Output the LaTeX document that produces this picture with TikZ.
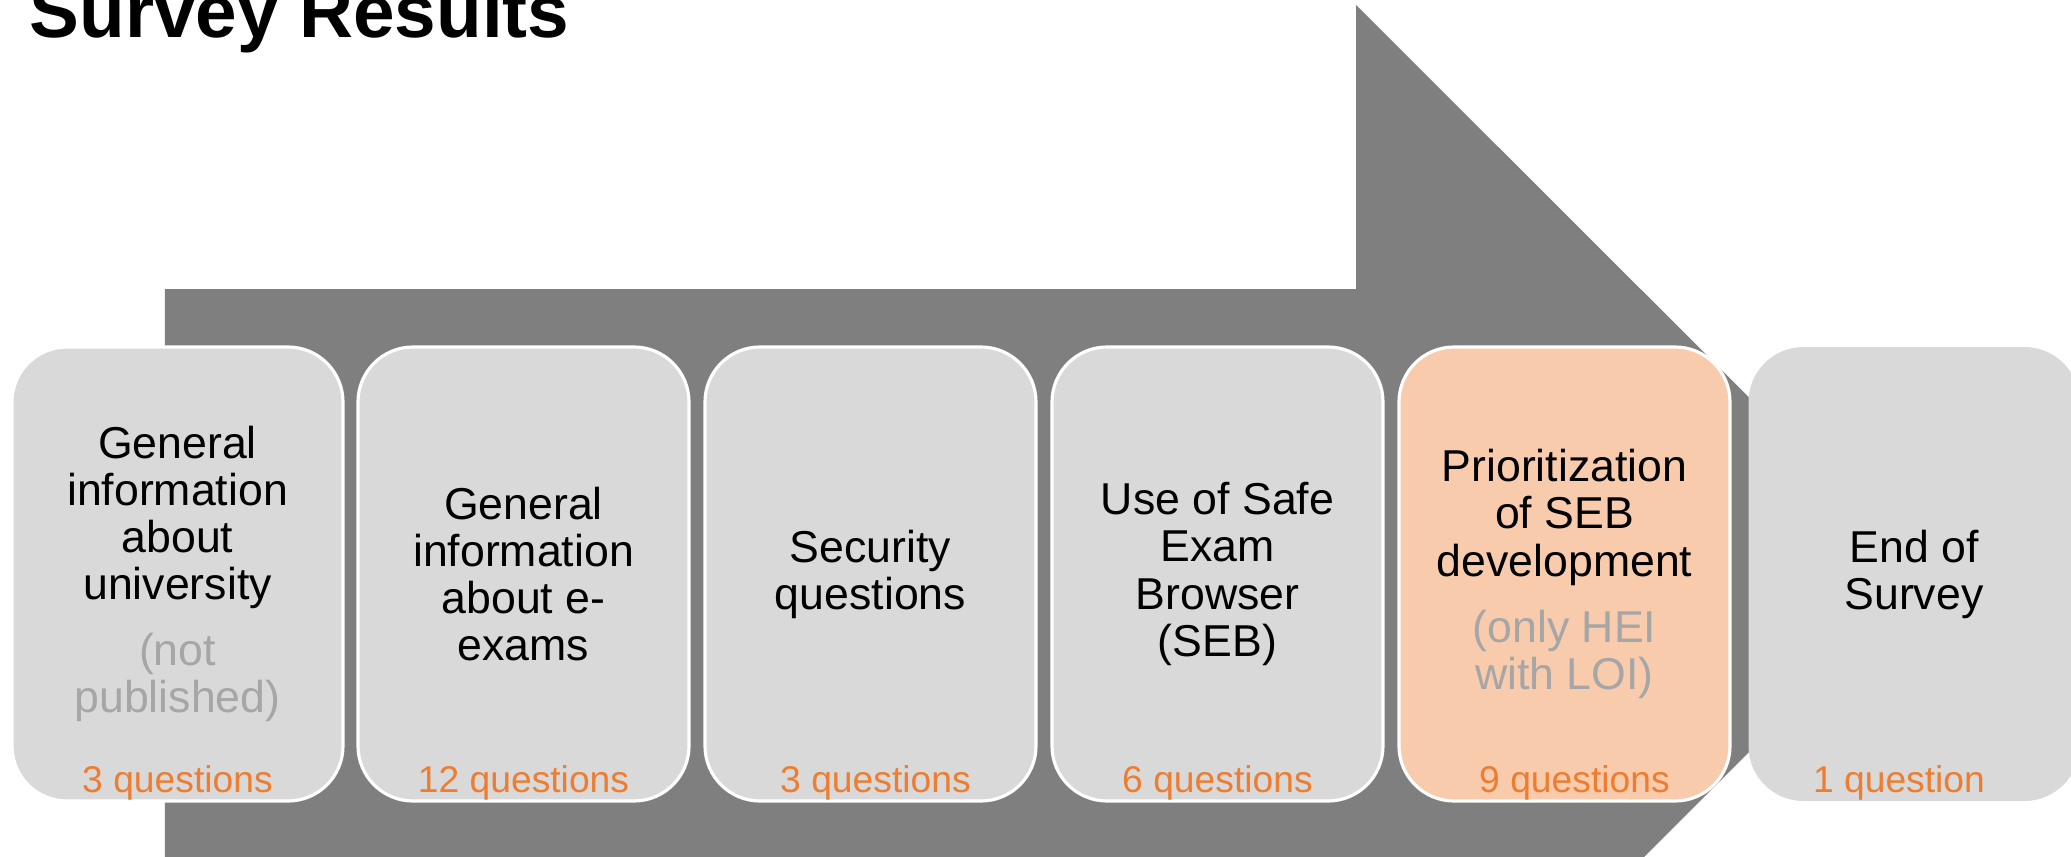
\documentclass[tikz,border=0pt]{standalone}
\usepackage{fontspec}
\setmainfont{Liberation Sans}
\usepackage{xcolor}
\usepackage{tikz}

\definecolor{arrowgray}{HTML}{7F7F7F}
\definecolor{boxgray}{HTML}{D9D9D9}
\definecolor{peach}{HTML}{F8CBAD}
\definecolor{qorange}{HTML}{ED7D31}
\definecolor{notegray}{HTML}{A6A6A6}
\newcommand{\greytext}[1]{\textcolor{notegray}{#1}}

\begin{document}
\begin{tikzpicture}[
  stage/.style={rounded corners=0.55cm, fill=boxgray, draw=white, line width=0.9pt,
    minimum width=3.31cm, minimum height=4.54cm, align=center,
    font=\fontsize{12.7}{13.4}\selectfont},
  count/.style={anchor=base, text=qorange, font=\fontsize{10.6}{12}\selectfont}
]
  \useasboundingbox (0,0) rectangle (20.71,8.56);
  \clip (0,0) rectangle (20.71,8.56);
  % the big arrow runs off the bottom of the page, the clip cuts it
  \fill[arrowgray] (1.65,-0.04) -- (1.65,5.67) -- (13.56,5.67) -- (13.56,8.51)
    -- (19.265,2.815) -- (13.56,-2.89) -- (13.56,-0.04) -- cycle;
  \node[anchor=base west, inner sep=0pt, font=\bfseries\fontsize{21.25}{24}\selectfont] (title) at (0.29,8.19) {Survey Results};

  \node[stage] (info) at (1.775,2.82) {General\\information\\about\\university\\[5.4pt]\greytext{(not}\\\greytext{published)}};
  \node[stage] (exams) at (5.235,2.82) {General\\information\\about e-\\exams};
  \node[stage] (security) at (8.705,2.82) {Security\\questions};
  \node[stage] (seb) at (12.175,2.82) {Use of Safe\\Exam\\Browser\\(SEB)};
  \node[stage, fill=peach] (prio) at (15.645,2.82) {Prioritization\\of SEB\\development\\[5.4pt]\greytext{(only HEI}\\\greytext{with LOI)}};
  \node[stage, draw=none] (end) at (19.14,2.82) {End of\\Survey};

  \node[count] (infoq) at ([yshift=0.1cm]info.south) {3 questions};
  \node[count] (examsq) at ([yshift=0.1cm]exams.south) {12 questions};
  \node[count] (securityq) at ([xshift=0.05cm,yshift=0.1cm]security.south) {3 questions};
  \node[count] (sebq) at ([yshift=0.1cm]seb.south) {6 questions};
  \node[count] (prioq) at ([xshift=0.1cm,yshift=0.1cm]prio.south) {9 questions};
  \node[count] (endq) at ([xshift=-0.15cm,yshift=0.1cm]end.south) {1 question};
\end{tikzpicture}
\end{document}
